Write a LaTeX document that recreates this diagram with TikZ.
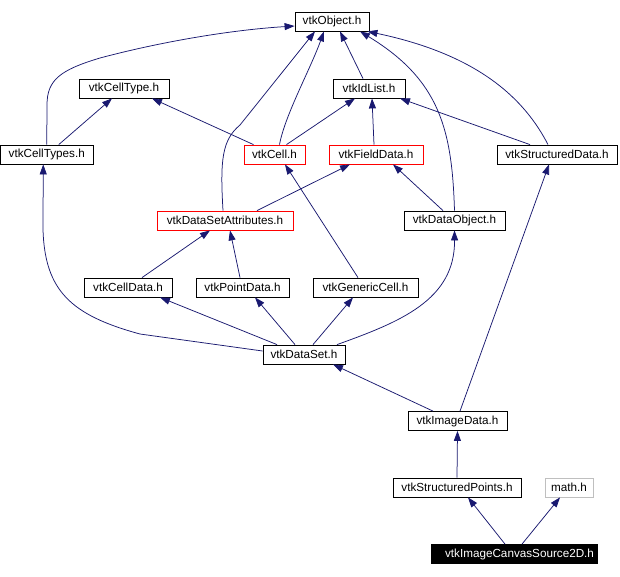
\documentclass[tikz,border=0pt]{standalone}
\usepackage{fontspec}
\setmainfont{Liberation Sans}
\usetikzlibrary{arrows.meta}
\definecolor{edgeblue}{HTML}{191970}
\definecolor{boxgray}{HTML}{BFBFBF}
\begin{document}
\begin{tikzpicture}[x=1pt,y=-1pt,
  hdr/.style={draw=black, line width=0.8pt, rectangle, minimum height=19pt, inner sep=0pt, font=\fontsize{11.7}{13}\selectfont, anchor=center},
  redhdr/.style={hdr, draw=red},
  grayhdr/.style={hdr, draw=boxgray},
  e/.style={draw=edgeblue, line width=0.75pt, -{Triangle[length=10pt,width=7pt]}}
]
\useasboundingbox[fill=white] (0,0) rectangle (620,576);

\node[hdr, minimum width=74pt] (obj) at (332,21.5) {vtkObject.h};
\node[hdr, minimum width=90pt] (celltype) at (124,88.5) {vtkCellType.h};
\node[hdr, minimum width=92.5pt] (celltypes) at (46.75,154.5) {vtkCellTypes.h};
\node[redhdr, minimum width=61pt] (cell) at (274.5,154.5) {vtkCell.h};
\node[hdr, minimum width=72pt] (idlist) at (369,88.5) {vtkIdList.h};
\node[redhdr, minimum width=94pt] (fielddata) at (376,154.5) {vtkFieldData.h};
\node[hdr, minimum width=120pt] (structdata) at (557,154.5) {vtkStructuredData.h};
\node[redhdr, minimum width=136pt] (dsattr) at (225,220.5) {vtkDataSetAttributes.h};
\node[hdr, minimum width=101pt] (dataobj) at (454.5,220.5) {vtkDataObject.h};
\node[hdr, minimum width=88pt] (celldata) at (128,287.5) {vtkCellData.h};
\node[hdr, minimum width=93pt] (pointdata) at (242.5,287.5) {vtkPointData.h};
\node[hdr, minimum width=105pt] (genericcell) at (365.5,287.5) {vtkGenericCell.h};
\node[hdr, minimum width=82pt] (dataset) at (304,354.5) {vtkDataSet.h};
\node[hdr, minimum width=99pt] (imagedata) at (457.5,421) {vtkImageData.h};
\node[hdr, minimum width=128pt] (structpoints) at (457,487.5) {vtkStructuredPoints.h};
\node[grayhdr, minimum width=48pt] (math) at (569,487.5) {math.h};
\node[hdr, fill=black, text=white, minimum width=166pt, text width=160pt, inner xsep=3pt, align=right] (canvas) at (514,554) {vtkImageCanvasSource2D.h};

% edges to vtkObject.h
\draw[e] (celltypes.north) -- (47,105) .. controls (47,80) and (60,70) .. (100,58) .. controls (160,42) and (230,30) .. ([yshift=-4.5pt]obj.west);
\draw[e] ([xshift=5pt]cell.north) .. controls (285,115) and (310,70) .. ([xshift=-8pt]obj.south);
\draw[e] ([xshift=-6pt]idlist.north) -- ([xshift=8pt]obj.south);
\draw[e] ([xshift=-2pt]dsattr.north) .. controls (220,160) and (222,140) .. (240,125) -- ([xshift=-17pt]obj.south);
\draw[e] (dataobj.north) .. controls (452,130) and (440,80) .. ([xshift=28pt]obj.south);
\draw[e] ([xshift=-9pt]structdata.north) .. controls (525,100) and (480,55) .. ([xshift=-2pt]obj.south east);

% vtkCellType.h
\draw[e] ([xshift=12pt]celltypes.north) -- ([xshift=-12pt]celltype.south);
\draw[e] ([xshift=-21pt]cell.north) -- ([xshift=28pt]celltype.south);

% vtkIdList.h
\draw[e] ([xshift=12pt]cell.north) -- ([xshift=-14pt]idlist.south);
\draw[e] ([xshift=-2pt]fielddata.north) -- ([xshift=3pt]idlist.south);
\draw[e] ([xshift=-27pt]structdata.north) -- ([xshift=31pt]idlist.south);

% vtkStructuredData.h
\draw[e] ([xshift=2.5pt]imagedata.north) -- ([xshift=-8pt]structdata.south);

% vtkFieldData.h
\draw[e] ([xshift=32pt]dsattr.north) -- ([xshift=-26pt]fielddata.south);
\draw[e] ([xshift=-11.5pt]dataobj.north) -- ([xshift=17pt]fielddata.south);

% vtkCell.h
\draw[e] ([xshift=-7.5pt]genericcell.north) -- ([xshift=10.5pt]cell.south);

% vtkDataSetAttributes.h
\draw[e] ([xshift=14pt]celldata.north) -- ([xshift=-15pt]dsattr.south);
\draw[e] ([xshift=-2.5pt]pointdata.north) -- ([xshift=5pt]dsattr.south);

% vtkDataSet.h outgoing
\draw[e] ([yshift=3.5pt]dataset.west) -- (140,334) .. controls (70,315) and (45,290) .. (43,230) -- ([xshift=-3.5pt]celltypes.south);
\draw[e] ([xshift=-27pt]dataset.north) -- ([xshift=32pt]celldata.south);
\draw[e] ([xshift=-9pt]dataset.north) -- ([xshift=12.5pt]pointdata.south);
\draw[e] ([xshift=9pt]dataset.north) -- ([xshift=-12.5pt]genericcell.south);
\draw[e] ([xshift=33pt]dataset.north) .. controls (400,322) and (455,300) .. (dataobj.south);

% lower part
\draw[e] ([xshift=-24.5pt]imagedata.north) -- ([xshift=29pt]dataset.south);
\draw[e] (structpoints.north) -- (imagedata.south);
\draw[e] ([xshift=-9pt]canvas.north) -- ([xshift=11pt]structpoints.south);
\draw[e] ([xshift=8pt]canvas.north) -- ([xshift=-9pt]math.south);
\end{tikzpicture}
\end{document}
